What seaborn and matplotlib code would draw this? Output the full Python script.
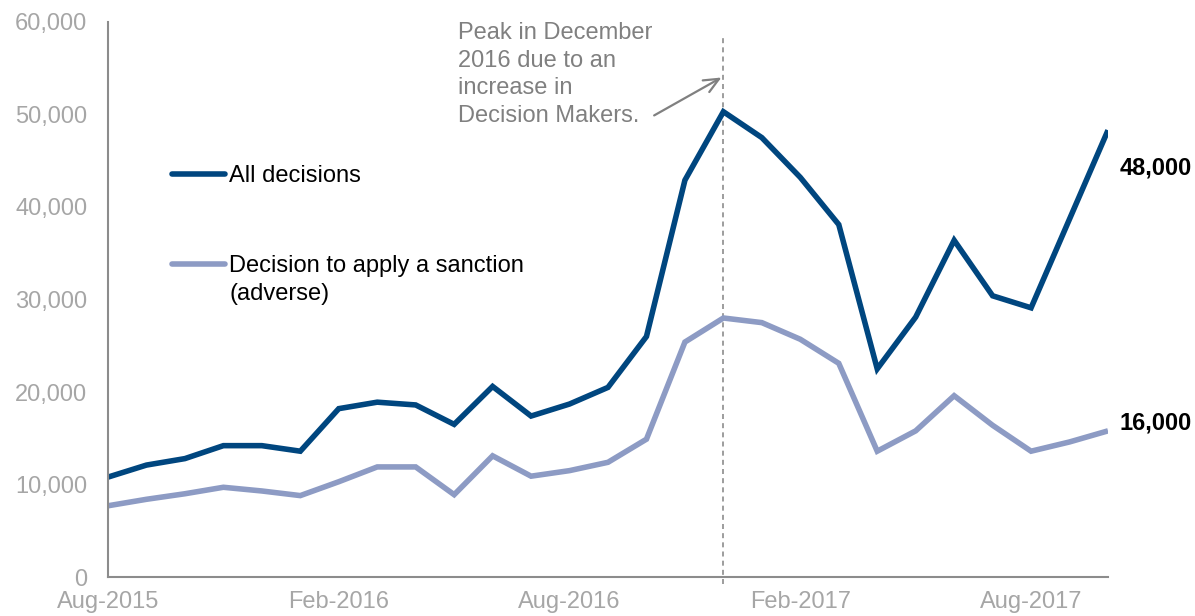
import matplotlib
matplotlib.use("Agg")
import matplotlib.pyplot as plt
import seaborn as sns
import pandas as pd
from matplotlib.lines import Line2D
from matplotlib.ticker import FuncFormatter

months = pd.date_range("2015-08-01", "2017-10-01", freq="MS").strftime("%b-%Y").tolist()
all_decisions = [10.8, 12.1, 12.8, 14.2, 14.2, 13.6, 18.2, 18.9, 18.6, 16.5, 20.6, 17.4,
                 18.7, 20.5, 26.0, 42.9, 50.3, 47.5, 43.2, 38.1, 22.5, 28.1, 36.4, 30.4,
                 29.1, 38.7, 48.3]
sanction = [7.7, 8.4, 9.0, 9.7, 9.3, 8.8, 10.3, 11.9, 11.9, 8.9, 13.1, 10.9,
            11.5, 12.4, 14.9, 25.4, 28.0, 27.5, 25.7, 23.1, 13.6, 15.8, 19.6, 16.4,
            13.6, 14.6, 15.8]
all_decisions = [v * 1000 for v in all_decisions]
sanction = [v * 1000 for v in sanction]
series_names = ["All decisions", "Decision to apply a sanction"]
series_note = "(adverse)"
end_labels = ["48,000", "16,000"]
tick_months = ["Aug-2015", "Feb-2016", "Aug-2016", "Feb-2017", "Aug-2017"]
peak_month = "Dec-2016"
note = "Peak in December\n2016 due to an\nincrease in\nDecision Makers."

colors = ["#00467f", "#8d9bc4"]
FS = 17
LW = 4.0

sns.set_theme(style="white")
plt.rcParams["font.family"] = ["Liberation Sans", "DejaVu Sans"]

df = pd.DataFrame({
    "idx": list(range(len(months))) * 2,
    "value": all_decisions + sanction,
    "series": [series_names[0]] * len(months) + [series_names[1]] * len(months),
})

fig = plt.figure(figsize=(11.95, 6.16), dpi=100)
ax = fig.add_axes([108 / 1195, 1 - 577 / 616, 1000 / 1195, 555 / 616])

sns.lineplot(data=df, x="idx", y="value", hue="series", hue_order=series_names,
             palette=colors, linewidth=LW, legend=False, ax=ax,
             solid_joinstyle="miter", solid_capstyle="butt")

ax.set_xlim(0, len(months) - 1)
ax.set_ylim(0, 60000)
ax.set_xlabel("")
ax.set_ylabel("")
ticks = [months.index(m) for m in tick_months]
ax.set_xticks(ticks)
ax.set_xticklabels(tick_months)
ax.set_yticks(range(0, 60001, 10000))
ax.yaxis.set_major_formatter(FuncFormatter(lambda v, p: f"{int(v):,}"))

for s in ["top", "right"]:
    ax.spines[s].set_visible(False)
for s in ["left", "bottom"]:
    ax.spines[s].set_color("#8c8c8c")
    ax.spines[s].set_linewidth(1.5)
ax.tick_params(axis="both", which="both", direction="out", length=5, width=1.5,
               color="#8c8c8c", labelcolor="#a6a6a6", labelsize=FS)
ax.tick_params(axis="x", pad=5)
ax.tick_params(axis="y", pad=10)

# peak marker
px = months.index(peak_month)
ax.vlines(px, -800, 58400, colors="#8c8c8c", linestyles=(0, (3, 2.5)), linewidth=1.2,
          clip_on=False, zorder=1)
ax.annotate("", xy=(px - 0.05, 54000), xytext=(14.2, 49900),
            arrowprops=dict(arrowstyle="->,head_length=0.9,head_width=0.4",
                            color="#808080", lw=1.6, shrinkA=0, shrinkB=0))
ax.text(9.1, 60000, note, ha="left", va="top", fontsize=FS, color="#808080",
        linespacing=1.33)

# end labels
n = len(months) - 1
ax.text(n + 0.3, 44200, end_labels[0], ha="left", va="center", fontsize=FS,
        fontweight="bold", color="black", clip_on=False)
ax.text(n + 0.3, 16600, end_labels[1], ha="left", va="center", fontsize=FS,
        fontweight="bold", color="black", clip_on=False)

# legends
h1 = [Line2D([], [], color=colors[0], lw=LW, solid_capstyle="round")]
leg1 = ax.legend(h1, [series_names[0]], loc="center left",
                 bbox_to_anchor=(0.064, (577 - 176) / 555), frameon=False, fontsize=FS,
                 handlelength=2.25, handletextpad=0.18, borderaxespad=0, borderpad=0,
                 labelcolor="black")
ax.add_artist(leg1)
h2 = [Line2D([], [], color=colors[1], lw=LW, solid_capstyle="round"),
      Line2D([], [], color="none", lw=0)]
leg2 = ax.legend(h2, [series_names[1], series_note], loc="center left",
                 bbox_to_anchor=(0.064, (577 - 280) / 555), frameon=False, fontsize=FS,
                 handlelength=2.25, handletextpad=0.18, borderaxespad=0, borderpad=0,
                 labelspacing=0.22, labelcolor="black")

fig.savefig("out.png", dpi=100)
